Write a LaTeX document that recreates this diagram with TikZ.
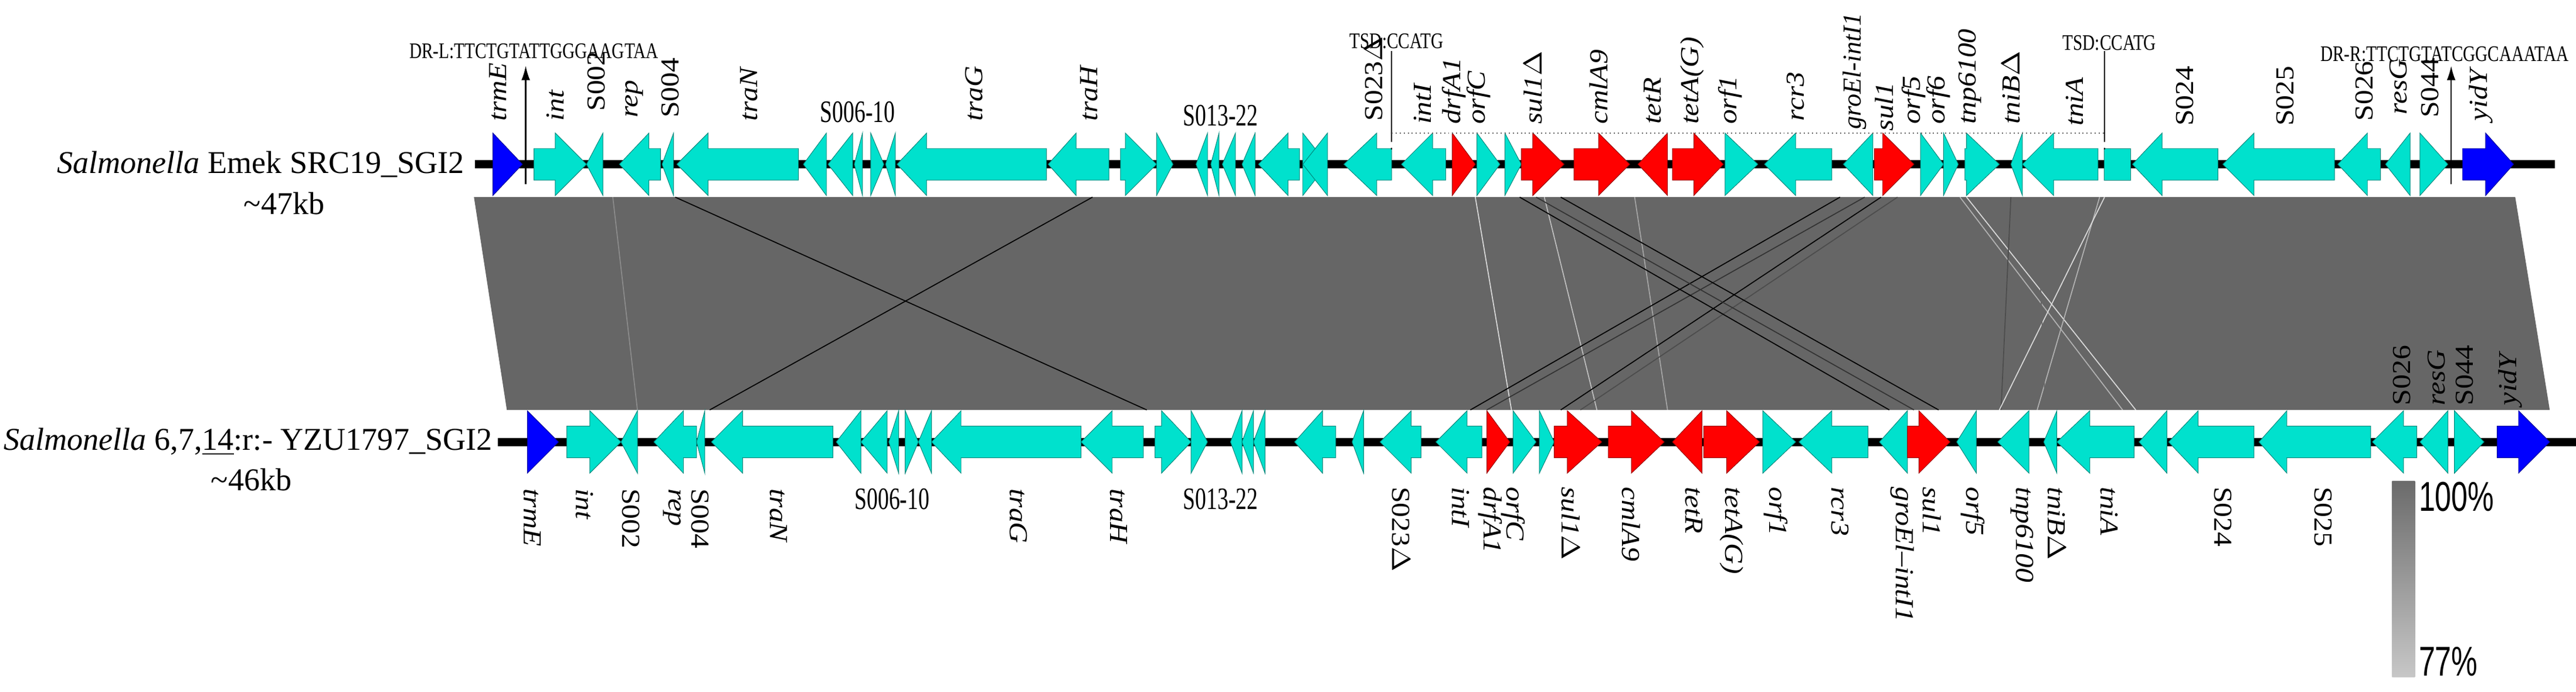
\documentclass[tikz,border=0pt]{standalone}
\usepackage{fontspec}
\usepackage{graphicx}
\setmainfont{Liberation Serif}
\newfontfamily\sans{Liberation Sans}
\usetikzlibrary{arrows.meta}
\definecolor{cy}{RGB}{0,225,205}
\definecolor{band}{RGB}{102,102,102}
\newcommand\gR[5]{\filldraw[fill=#5,draw=#5!60!black,line width=0.2pt] (#2,#1-9.6) -- (#3,#1-9.6) -- (#3,#1-19) -- (#4,#1) -- (#3,#1+19) -- (#3,#1+9.6) -- (#2,#1+9.6) -- cycle;}
\newcommand\gL[5]{\filldraw[fill=#5,draw=#5!60!black,line width=0.2pt] (#2,#1) -- (#3,#1-19) -- (#3,#1-9.6) -- (#4,#1-9.6) -- (#4,#1+9.6) -- (#3,#1+9.6) -- (#3,#1+19) -- cycle;}
\newcommand\sx[1]{\scalebox{1.12}[1]{#1}}
\newcommand\hx[1]{\scalebox{0.85}[1.2]{#1}}
\begin{document}
\begin{tikzpicture}[x=0.02cm,y=-0.02cm,
 ti/.style={rotate=90,anchor=west,inner sep=0,font=\fontsize{9}{9}\selectfont\itshape},
 tu/.style={rotate=90,anchor=west,inner sep=0,font=\fontsize{9}{9}\selectfont},
 bi/.style={rotate=-90,anchor=west,inner sep=0,font=\fontsize{9}{9}\selectfont\itshape},
 bu/.style={rotate=-90,anchor=west,inner sep=0,font=\fontsize{9}{9}\selectfont},
 hl/.style={inner sep=0,font=\fontsize{9}{9}\selectfont},
 sp/.style={inner sep=0,font=\fontsize{11}{11}\selectfont},
 sm/.style={inner sep=0,font=\fontsize{7}{7}\selectfont},
 cl/.style={line width=0.35pt}]
\useasboundingbox (0,0) rectangle (1568,421);
% band
\fill[band] (288.5,120) -- (1531,120) -- (1552,249.5) -- (308.5,249.5) -- cycle;
% connection lines
\draw[cl,black!45] (373,120) -- (388,249.5);
\draw[cl,black] (411,120) -- (698,249.5);
\draw[cl,black] (665,120) -- (432,249.5);
\draw[cl,white!85!black] (898,120) -- (920,249.5);
\draw[cl,white!75!black] (940,120) -- (972,249.5);
\draw[cl,white!65!black] (995,120) -- (1015,249.5);
\draw[cl,black] (1120,120) -- (895,249.5);
\draw[cl,black!80] (1135,120) -- (905,249.5);
\draw[cl,black] (1145,120) -- (950,249.5);
\draw[cl,black!70] (1155,120) -- (962,249.5);
\draw[cl,black] (925,120) -- (1150,249.5);
\draw[cl,black!80] (935,120) -- (1165,249.5);
\draw[cl,black] (950,120) -- (1180,249.5);
\draw[cl,white!70!black] (1193,120) -- (1292,249.5);
\draw[cl,white!85!black] (1197,120) -- (1300,249.5);
\draw[cl,black!70] (1224,120) -- (1218,249.5);
\draw[cl,white!70!black] (1278,120) -- (1240,249.5);
\draw[cl,white!85!black] (1281,120) -- (1217,249.5);
\draw[cl,black!60] (1240,120) -- (1245,249.5);
% track lines
\draw[line width=0.1cm] (289,100) -- (1555,100);
\draw[line width=0.1cm] (303,269) -- (1568,269);
% top genes
\gR{100}{300}{300}{318}{blue}
\gR{100}{325}{338}{357}{cy}
\gL{100}{357}{367}{367}{cy}
\gL{100}{377}{395}{402}{cy}
\gL{100}{403}{410}{410}{cy}
\gL{100}{412}{431}{486}{cy}
\gL{100}{489}{503}{503}{cy}
\gL{100}{504}{519}{519}{cy}
\gL{100}{520}{525}{525}{cy}
\gR{100}{530}{530}{538}{cy}
\gL{100}{539}{545}{545}{cy}
\gL{100}{546}{564}{637}{cy}
\gL{100}{638}{655}{675}{cy}
\gR{100}{682}{685}{704}{cy}
\gR{100}{704}{704}{714}{cy}
\gL{100}{728}{735}{735}{cy}
\gL{100}{737}{742}{742}{cy}
\gL{100}{744}{752}{752}{cy}
\gL{100}{756}{764}{764}{cy}
\gL{100}{766}{784}{791}{cy}
\gR{100}{793}{793}{808}{cy}
\gL{100}{793}{808}{808}{cy}
\gL{100}{818}{838}{847}{cy}
\gL{100}{853}{872}{880}{cy}
\gR{100}{884}{884}{898}{red}
\gR{100}{899}{899}{913}{cy}
\gR{100}{916}{916}{926}{cy}
\gR{100}{926}{933}{952}{red}
\gR{100}{958}{973}{992}{red}
\gL{100}{997}{1015}{1015}{red}
\gR{100}{1018}{1031}{1049}{red}
\gR{100}{1050}{1050}{1070}{cy}
\gL{100}{1074}{1093}{1115}{cy}
\gL{100}{1122}{1140}{1140}{cy}
\gR{100}{1141}{1146}{1165}{red}
\gR{100}{1169}{1169}{1183}{cy}
\gR{100}{1183}{1183}{1192}{cy}
\gR{100}{1196}{1197}{1217}{cy}
\gL{100}{1224}{1231}{1231}{cy}
\gL{100}{1231}{1250}{1277}{cy}
\filldraw[fill=cy,draw=cy!60!black,line width=0.2pt] (1281,90.4) rectangle (1297,109.6);
\gL{100}{1298}{1316}{1350}{cy}
\gL{100}{1353}{1372}{1421}{cy}
\gL{100}{1423}{1441}{1449}{cy}
\gL{100}{1452}{1467}{1467}{cy}
\gR{100}{1473}{1473}{1490}{cy}
\gR{100}{1499}{1513}{1530}{blue}
% bottom genes
\gR{269}{321}{321}{340}{blue}
\gR{269}{345}{359}{378}{cy}
\gL{269}{378}{388}{388}{cy}
\gL{269}{398}{416}{424}{cy}
\gL{269}{424}{429}{429}{cy}
\gL{269}{433}{452}{507}{cy}
\gL{269}{509}{524}{524}{cy}
\gL{269}{524}{540}{540}{cy}
\gL{269}{541}{547}{547}{cy}
\gR{269}{551}{551}{559}{cy}
\gL{269}{559}{567}{567}{cy}
\gL{269}{567}{585}{658}{cy}
\gL{269}{658}{677}{696}{cy}
\gR{269}{703}{707}{725}{cy}
\gR{269}{725}{725}{735}{cy}
\gL{269}{749}{756}{756}{cy}
\gL{269}{756}{763}{763}{cy}
\gL{269}{763}{770}{770}{cy}
\gL{269}{788}{805}{813}{cy}
\gL{269}{823}{830}{830}{cy}
\gL{269}{840}{859}{865}{cy}
\gL{269}{874}{893}{902}{cy}
\gR{269}{905}{905}{919}{red}
\gR{269}{921}{921}{935}{cy}
\gR{269}{937}{937}{946}{cy}
\gR{269}{946}{954}{975}{red}
\gR{269}{979}{993}{1013}{red}
\gL{269}{1018}{1036}{1036}{red}
\gR{269}{1037}{1051}{1071}{red}
\gR{269}{1073}{1073}{1093}{cy}
\gL{269}{1095}{1115}{1137}{cy}
\gL{269}{1144}{1161}{1161}{cy}
\gR{269}{1161}{1168}{1187}{red}
\gL{269}{1191}{1203}{1203}{cy}
\gL{269}{1216}{1235}{1235}{cy}
\gL{269}{1244}{1252}{1252}{cy}
\gL{269}{1252}{1272}{1299}{cy}
\gL{269}{1302}{1319}{1319}{cy}
\gL{269}{1320}{1338}{1372}{cy}
\gL{269}{1375}{1392}{1443}{cy}
\gL{269}{1444}{1463}{1471}{cy}
\gL{269}{1473}{1490}{1490}{cy}
\gR{269}{1494}{1494}{1512}{cy}
\gR{269}{1520}{1533}{1552}{blue}
% DR markers
\coordinate (drl0) at (320,112); \coordinate (drl1) at (320,40);
\draw[line width=0.5pt,-{Latex[length=5pt,width=3pt]}] (drl0) -- (drl1);
\coordinate (drr0) at (1492,112); \coordinate (drr1) at (1492,40);
\draw[line width=0.5pt,-{Latex[length=5pt,width=3pt]}] (drr0) -- (drr1);
\node[sm] (drlt) at (325,31) {\scalebox{0.85}[1.1]{DR-L:TTCTGTATTGGGAAGTAA}};
\node[sm] (drrt) at (1488,33) {\scalebox{0.85}[1.1]{DR-R:TTCTGTATCGGCAAATAA}};
% TSD
\coordinate (t1a) at (847,31); \coordinate (t1b) at (847,81); \coordinate (t1c) at (847,91);
\coordinate (t2a) at (1281,31); \coordinate (t2b) at (1281,81); \coordinate (t2c) at (1281,91);
\draw[line width=0.4pt] (t1a) -- (t1b); \draw[line width=0.3pt,densely dashed] (t1b) -- (t1c);
\draw[line width=0.4pt] (t2a) -- (t2b); \draw[line width=0.3pt,densely dashed] (t2b) -- (t2c);
\draw[line width=0.4pt,densely dotted,black!60] (t1b) -- (t2b);
\node[sm] (tsd1) at (850,25) {\scalebox{0.85}[1.1]{TSD:CCATG}};
\node[sm] (tsd2) at (1284,26) {\scalebox{0.85}[1.1]{TSD:CCATG}};
% top labels
\node[ti] at (303,74) {\sx{trmE}};
\node[ti] at (338,74) {\sx{int}};
\node[tu] at (363,68) {\sx{S002}};
\node[ti] at (386,72) {\sx{rep}};
\node[tu] at (408,72) {\sx{S004}};
\node[ti] at (456,74) {\sx{traN}};
\node[hl,anchor=south] at (522,75) {\hx{S006-10}};
\node[ti] at (593,74) {\sx{traG}};
\node[ti] at (663,74) {\sx{traH}};
\node[hl,anchor=south] at (743,77) {\hx{S013-22}};
\node[tu] at (836,74) {\sx{S023$\Delta$}};
\node[ti] at (866,76) {\sx{intI}};
\node[ti] at (885,76) {\sx{drfA1}};
\node[ti] at (900,76) {\sx{orfC}};
\node[ti] at (933,76) {\sx{sul1$\Delta$}};
\node[ti] at (973,76) {\sx{cmlA9}};
\node[ti] at (1006,76) {\sx{tetR}};
\node[ti] at (1030,76) {\sx{tetA(G)}};
\node[ti] at (1053,76) {\sx{orf1}};
\node[ti] at (1093,74) {\sx{rcr3}};
\node[ti] at (1129,79) {groEl-intI1};
\node[ti] at (1147,80) {\sx{sul1}};
\node[ti] at (1165,76) {\sx{orf5}};
\node[ti] at (1180,76) {\sx{orf6}};
\node[ti] at (1199,76) {\sx{tnp6100}};
\node[ti] at (1224,76) {\sx{tniB$\Delta$}};
\node[ti] at (1263,77) {\sx{tniA}};
\node[tu] at (1330,77) {\sx{S024}};
\node[tu] at (1391,77) {\sx{S025}};
\node[tu] at (1439,74) {\sx{S026}};
\node[ti] at (1460,70) {\sx{resG}};
\node[tu] at (1479,72) {\sx{S044}};
\node[ti] at (1510,74) {\sx{yidY}};
% bottom labels
\node[bi] at (324,297) {\sx{trmE}};
\node[bi] at (356,297) {\sx{int}};
\node[bu] at (384,297) {\sx{S002}};
\node[bi] at (409,297) {\sx{rep}};
\node[bu] at (426,297) {\sx{S004}};
\node[bi] at (474,297) {\sx{traN}};
\node[hl,anchor=north] at (543,297) {\hx{S006-10}};
\node[bi] at (620,297) {\sx{traG}};
\node[bi] at (681,297) {\sx{traH}};
\node[hl,anchor=north] at (743,297) {\hx{S013-22}};
\node[bu] at (853,296) {\sx{S023$\Delta$}};
\node[bi] at (889,296) {\sx{intI}};
\node[bi] at (907,296) {\sx{drfA1}};
\node[bi] at (921,296) {\sx{orfC}};
\node[bi] at (956,296) {\sx{sul1$\Delta$}};
\node[bi] at (993,296) {\sx{cmlA9}};
\node[bi] at (1031,296) {\sx{tetR}};
\node[bi] at (1054,296) {\sx{tetA(G)}};
\node[bi] at (1081,296) {\sx{orf1}};
\node[bi] at (1120,296) {\sx{rcr3}};
\node[bi] at (1158,296) {\sx{groEl--intI1}};
\node[bi] at (1176,296) {\sx{sul1}};
\node[bi] at (1201,296) {\sx{orf5}};
\node[bi] at (1231,296) {\sx{tnp6100}};
\node[bi] at (1252,296) {\sx{tniB$\Delta$}};
\node[bi] at (1284,296) {\sx{tniA}};
\node[bu] at (1353,296) {\sx{S024}};
\node[bu] at (1414,296) {\sx{S025}};
\node[tu] at (1462,247) {\sx{S026}};
\node[ti] at (1483,247) {\sx{resG}};
\node[tu] at (1500,247) {\sx{S044}};
\node[ti] at (1528,247) {\sx{yidY}};
% species
\node[sp,anchor=east] (sp1) at (283,100) {\textit{Salmonella} Emek SRC19\_SGI2};
\node[sp] (kb1) at (173,124) {\textasciitilde47kb};
\node[sp,anchor=east] (sp2) at (300,269) {\textit{Salmonella} 6,7,\underline{14}:r:- YZU1797\_SGI2};
\node[sp] (kb2) at (153,292) {\textasciitilde46kb};
% legend
\shade[top color=black!58,bottom color=black!22] (1456,293) rectangle (1470,412);
\node[inner sep=0,anchor=north west,font=\sans\fontsize{12}{12}\selectfont] (p100) at (1472,293) {\scalebox{0.85}[1.2]{100\%}};
\node[inner sep=0,anchor=south west,font=\sans\fontsize{12}{12}\selectfont] (p77) at (1472,412) {\scalebox{0.85}[1.2]{77\%}};
\end{tikzpicture}
\end{document}
